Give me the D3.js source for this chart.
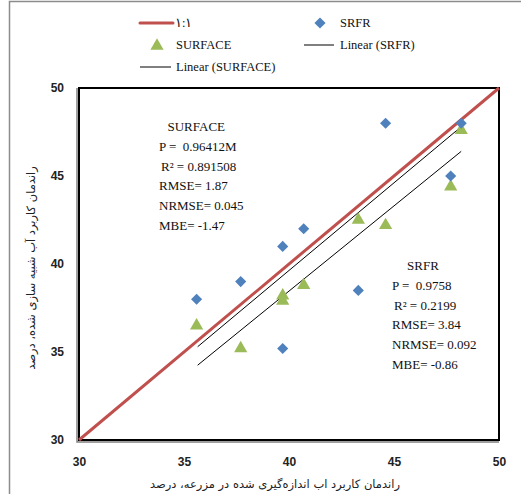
<!DOCTYPE html>
<html>
<head>
<meta charset="utf-8">
<script src="https://cdn.jsdelivr.net/npm/d3@7"></script>
<style>
  body { margin: 0; background: #fff; }
  svg { display: block; }
  text { white-space: pre; }
</style>
</head>
<body>
<svg width="521" height="494"></svg>
<script>
// measured values (x) and simulated values (y)
const srfrX = [35.6, 37.7, 39.7, 40.7, 44.6, 48.2, 47.7, 43.3, 39.7];
const srfrY = [38.0, 39.0, 41.0, 42.0, 48.0, 48.0, 45.0, 38.5, 35.2];
const surfX = [35.6, 37.7, 39.7, 39.7, 40.7, 43.3, 44.6, 47.7, 48.2];
const surfY = [36.5, 35.2, 38.2, 37.9, 38.8, 42.5, 42.2, 44.4, 47.6];

// trend line end points
const srfrTrendX = [35.65, 48.2];
const srfrTrendY = [35.3, 47.8];
const surfTrendX = [35.65, 48.2];
const surfTrendY = [34.25, 46.4];
const oneToOne = [30, 50];

const ticks = [30, 35, 40, 45, 50];
const legendLabels = ["۱:۱", "SRFR", "SURFACE", "Linear (SRFR)", "Linear (SURFACE)"];
const surfStats = ["SURFACE", "P =  0.96412M", "R² = 0.891508", "RMSE= 1.87", "NRMSE= 0.045", "MBE= -1.47"];
const srfrStats = ["SRFR", "P =  0.9758", "R² = 0.2199", "RMSE= 3.84", "NRMSE= 0.092", "MBE= -0.86"];
const xTitle = "راندمان کاربرد اب اندازه‌گیری شده در مزرعه، درصد";
const yTitle = "راندمان کاربرد آب شبیه سازی شده، درصد";

function draw() {
  const svg = d3.select("svg");
  const serif = "'Liberation Serif', 'Times New Roman', serif";
  const blue = "#4f81bd";
  const green = "#9bbb59";
  const red = "#c0504d";

  // outer chart frame
  svg.append("path")
    .attr("d", "M9.5,494 V1.5 H521")
    .attr("fill", "none")
    .attr("stroke", "#8c8c8c")
    .attr("stroke-width", 1.5);

  const x = d3.scaleLinear().domain([30, 50]).range([79, 499]);
  const y = d3.scaleLinear().domain([30, 50]).range([440, 88]);

  // plot border
  svg.append("rect")
    .attr("x", x(30)).attr("y", y(50))
    .attr("width", x(50) - x(30)).attr("height", y(30) - y(50))
    .attr("fill", "none").attr("stroke", "#000").attr("stroke-width", 2);
  svg.append("path")
    .attr("d", `M${x(30) - 2},${y(50)} V${y(30) + 2} H${x(50)}`)
    .attr("fill", "none").attr("stroke", "#808080").attr("stroke-width", 1.5);

  // axes
  const xAxis = svg.append("g")
    .attr("transform", `translate(0,${y(30) + 14})`)
    .call(d3.axisBottom(x).tickValues(ticks).tickSize(0));
  const yAxis = svg.append("g")
    .attr("transform", `translate(${x(30) - 12},0)`)
    .call(d3.axisLeft(y).tickValues(ticks).tickSize(0));
  [xAxis, yAxis].forEach(a => {
    a.select(".domain").remove();
    a.selectAll("text")
      .attr("font-family", "'Liberation Sans', Arial, sans-serif")
      .attr("font-weight", "bold")
      .attr("font-size", 12)
      .attr("fill", "#222");
  });

  svg.append("text")
    .attr("x", 275).attr("y", 488)
    .attr("text-anchor", "middle")
    .attr("font-family", "'DejaVu Sans', 'Noto Sans', sans-serif")
    .attr("font-size", 11.5)
    .attr("fill", "#222")
    .text(xTitle);
  svg.append("text")
    .attr("transform", `translate(35,268) rotate(-90)`)
    .attr("text-anchor", "middle")
    .attr("font-family", "'DejaVu Sans', 'Noto Sans', sans-serif")
    .attr("font-size", 11.5)
    .attr("fill", "#222")
    .text(yTitle);

  // 1:1 line
  const line = d3.line().x(d => x(d[0])).y(d => y(d[1]));
  svg.append("path")
    .attr("d", line(d3.zip(oneToOne, oneToOne)))
    .attr("stroke", red).attr("stroke-width", 3).attr("fill", "none");

  // trend lines
  [[srfrTrendX, srfrTrendY], [surfTrendX, surfTrendY]].forEach(([tx, ty]) => {
    svg.append("path")
      .attr("d", line(d3.zip(tx, ty)))
      .attr("stroke", "#000").attr("stroke-width", 1).attr("fill", "none");
  });

  const diamond = d3.symbol().type(d3.symbolSquare).size(62);
  const triangle = d3.symbol().type(d3.symbolTriangle).size(76);

  svg.append("g").selectAll("path")
    .data(d3.zip(surfX, surfY))
    .join("path")
    .attr("d", triangle)
    .attr("transform", d => `translate(${x(d[0])},${y(d[1])})`)
    .attr("fill", green);

  svg.append("g").selectAll("path")
    .data(d3.zip(srfrX, srfrY))
    .join("path")
    .attr("d", diamond)
    .attr("transform", d => `translate(${x(d[0])},${y(d[1])}) rotate(45)`)
    .attr("fill", blue);

  // stats text
  function stats(lines, x0, y0, firstDx) {
    const g = svg.append("g").attr("font-family", serif).attr("font-size", 13).attr("fill", "#111");
    lines.forEach((t, i) => {
      g.append("text")
        .attr("x", i === 0 ? x0 + firstDx : x0 + (i === 2 ? 2 : 0))
        .attr("y", y0 + i * 19.8)
        .text(t);
    });
  }
  stats(surfStats, 159, 131, 8.5);
  stats(srfrStats, 392, 270, 15);

  // legend
  const lg = svg.append("g").attr("font-family", serif).attr("font-size", 12.5).attr("fill", "#111");
  lg.append("line").attr("x1", 140).attr("x2", 173).attr("y1", 23).attr("y2", 23)
    .attr("stroke", red).attr("stroke-width", 3).attr("stroke-linecap", "round");
  lg.append("text").attr("x", 175).attr("y", 27).text(legendLabels[0]);
  lg.append("path").attr("d", diamond).attr("fill", blue)
    .attr("transform", "translate(320,23) rotate(45)");
  lg.append("text").attr("x", 340).attr("y", 27).text(legendLabels[1]);
  lg.append("path").attr("d", triangle).attr("fill", green)
    .attr("transform", "translate(157,46)");
  lg.append("text").attr("x", 176).attr("y", 49).text(legendLabels[2]);
  lg.append("line").attr("x1", 304).attr("x2", 334).attr("y1", 45).attr("y2", 45)
    .attr("stroke", "#000").attr("stroke-width", 1);
  lg.append("text").attr("x", 340).attr("y", 49).text(legendLabels[3]);
  lg.append("line").attr("x1", 140).attr("x2", 171).attr("y1", 67).attr("y2", 67)
    .attr("stroke", "#000").attr("stroke-width", 1);
  lg.append("text").attr("x", 176).attr("y", 71).text(legendLabels[4]);
}

window.onload = draw;
</script>
</body>
</html>
